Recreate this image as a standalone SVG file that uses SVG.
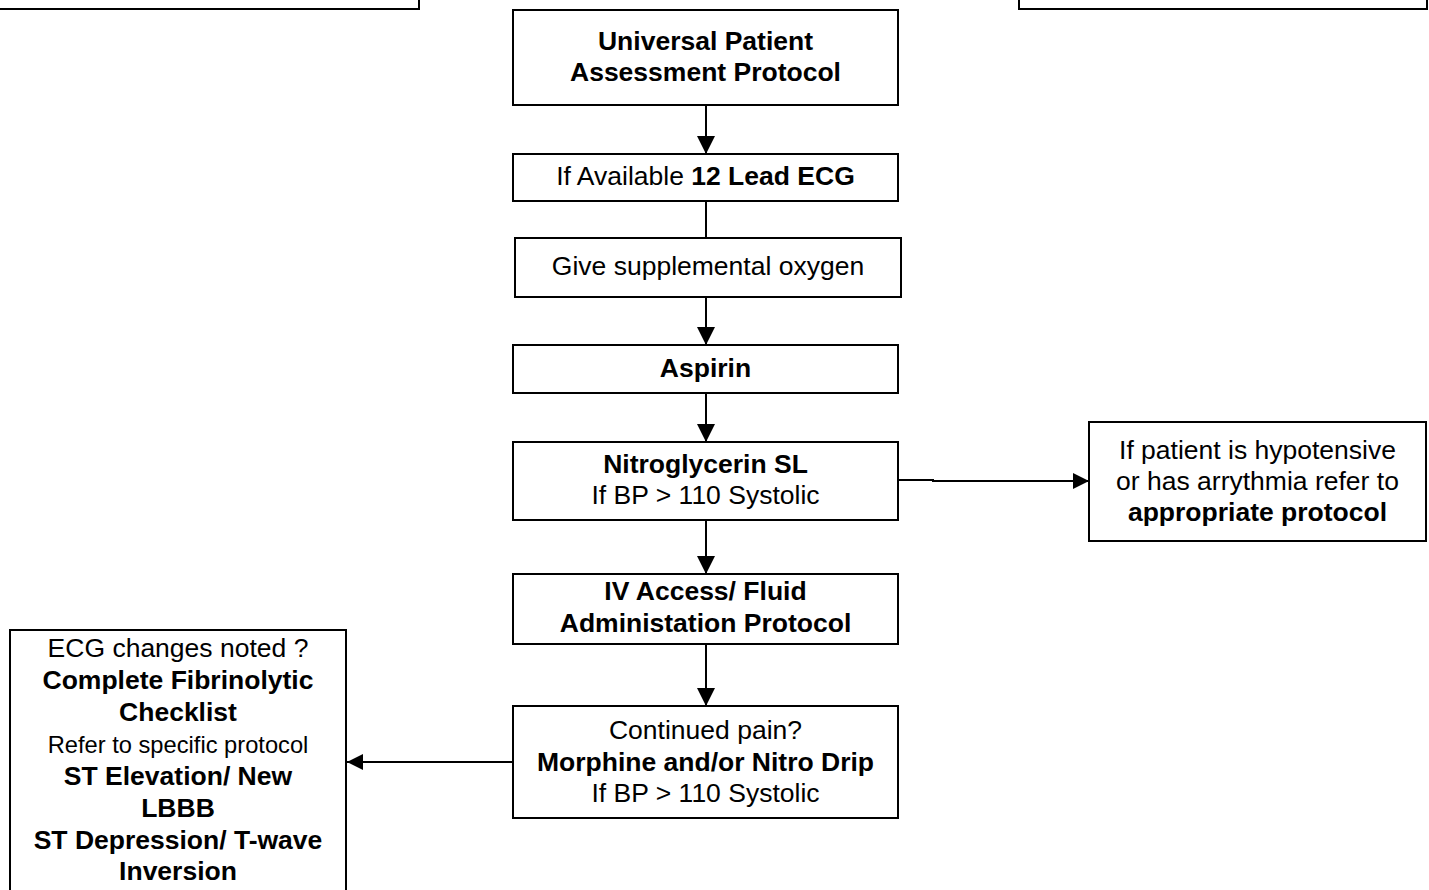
<svg xmlns="http://www.w3.org/2000/svg" width="1429" height="890" viewBox="0 0 1429 890">
  <style>
    .box { fill: #ffffff; stroke: #000000; stroke-width: 2; }
    .link { fill: none; stroke: #000000; stroke-width: 2; }
    text { font-family: "Liberation Sans", Arial, sans-serif; font-size: 26.5px; fill: #000000; text-anchor: middle; }
    .b { font-weight: bold; }
    .small { font-size: 23.7px; }
  </style>
  <defs>
    <!-- arrowhead for the vertical flow -->
    <marker id="arrow" viewBox="0 0 18 18" refX="18" refY="9" markerWidth="18" markerHeight="18" markerUnits="userSpaceOnUse" orient="auto">
      <path d="M0,0 L18,9 L0,18 Z" fill="#000000"/>
    </marker>
    <!-- slightly smaller arrowhead for the side branches -->
    <marker id="arrow-side" viewBox="0 0 16 16" refX="16" refY="8" markerWidth="16" markerHeight="16" markerUnits="userSpaceOnUse" orient="auto">
      <path d="M0,0 L16,8 L0,16 Z" fill="#000000"/>
    </marker>
  </defs>
  <rect width="1429" height="890" fill="#ffffff"/>

  <!-- boxes cut off at the top edge of the sheet -->
  <g id="top-left-box">
    <rect class="box" x="-10" y="-20" width="429" height="29"/>
  </g>
  <g id="top-right-box">
    <rect class="box" x="1019" y="-20" width="408" height="29"/>
  </g>

  <!-- flow connectors -->
  <g id="connectors">
    <line class="link" x1="706" y1="105" x2="706" y2="154" marker-end="url(#arrow)"/>
    <line class="link" x1="706" y1="201" x2="706" y2="238"/>
    <line class="link" x1="706" y1="297" x2="706" y2="345" marker-end="url(#arrow)"/>
    <line class="link" x1="706" y1="393" x2="706" y2="442" marker-end="url(#arrow)"/>
    <line class="link" x1="706" y1="520" x2="706" y2="574" marker-end="url(#arrow)"/>
    <line class="link" x1="706" y1="644" x2="706" y2="706" marker-end="url(#arrow)"/>
    <path class="link" d="M898,480 H933 V481 H1089" marker-end="url(#arrow-side)"/>
    <line class="link" x1="513" y1="762" x2="347" y2="762" marker-end="url(#arrow-side)"/>
  </g>

  <g id="universal-assessment">
    <rect class="box" x="513" y="10" width="385" height="95"/>
    <text class="b" x="705.5" y="50">Universal Patient</text>
    <text class="b" x="705.5" y="81">Assessment Protocol</text>
  </g>

  <g id="ecg-12-lead">
    <rect class="box" x="513" y="154" width="385" height="47"/>
    <text x="705.5" y="185">If Available <tspan class="b">12 Lead ECG</tspan></text>
  </g>

  <g id="oxygen">
    <rect class="box" x="515" y="238" width="386" height="59"/>
    <text x="708" y="275">Give supplemental oxygen</text>
  </g>

  <g id="aspirin">
    <rect class="box" x="513" y="345" width="385" height="48"/>
    <text class="b" x="705.5" y="377">Aspirin</text>
  </g>

  <g id="nitroglycerin">
    <rect class="box" x="513" y="442" width="385" height="78"/>
    <text class="b" x="705.5" y="473">Nitroglycerin SL</text>
    <text x="705.5" y="504">If BP &gt; 110 Systolic</text>
  </g>

  <g id="hypotensive-note">
    <rect class="box" x="1089" y="422" width="337" height="119"/>
    <text x="1257.5" y="459">If patient is hypotensive</text>
    <text x="1257.5" y="490">or has arrythmia refer to</text>
    <text class="b" x="1257.5" y="521">appropriate protocol</text>
  </g>

  <g id="iv-access">
    <rect class="box" x="513" y="574" width="385" height="70"/>
    <text class="b" x="705.5" y="600">IV Access/ Fluid</text>
    <text class="b" x="705.5" y="632">Administation Protocol</text>
  </g>

  <g id="continued-pain">
    <rect class="box" x="513" y="706" width="385" height="112"/>
    <text x="705.5" y="739">Continued pain?</text>
    <text class="b" x="705.5" y="771">Morphine and/or Nitro Drip</text>
    <text x="705.5" y="802">If BP &gt; 110 Systolic</text>
  </g>

  <g id="ecg-changes">
    <rect class="box" x="10" y="630" width="336" height="280"/>
    <text x="178" y="657">ECG changes noted ?</text>
    <text class="b" x="178" y="689">Complete Fibrinolytic</text>
    <text class="b" x="178" y="721">Checklist</text>
    <text class="small" x="178" y="753">Refer to specific protocol</text>
    <text class="b" x="178" y="785">ST Elevation/ New</text>
    <text class="b" x="178" y="817">LBBB</text>
    <text class="b" x="178" y="849">ST Depression/ T-wave</text>
    <text class="b" x="178" y="880">Inversion</text>
  </g>
</svg>
